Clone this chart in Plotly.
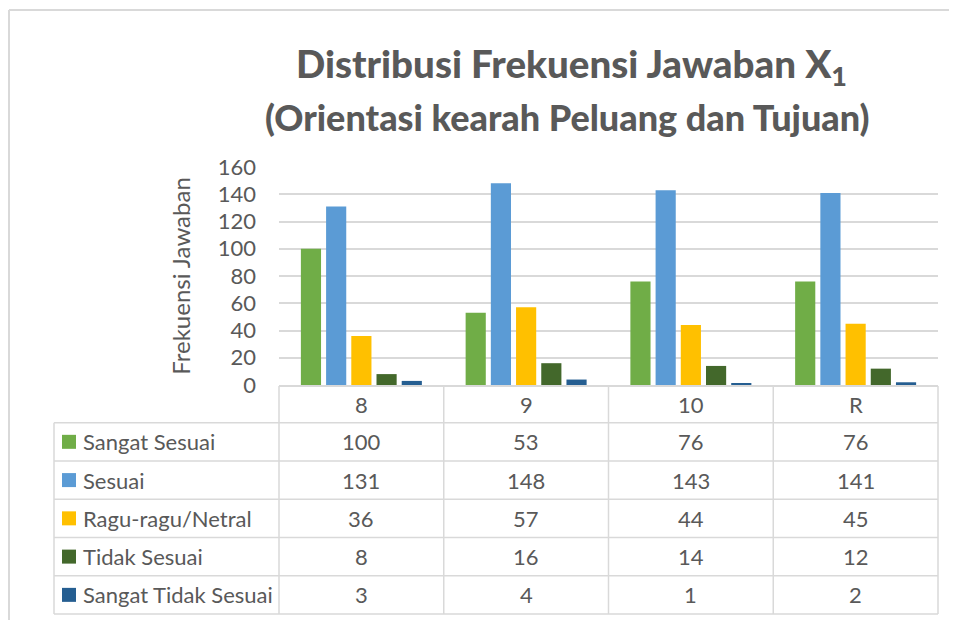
import plotly.graph_objects as go

# ---------------- data ----------------
categories = ["8", "9", "10", "R"]
series_names = ["Sangat Sesuai", "Sesuai", "Ragu-ragu/Netral", "Tidak Sesuai", "Sangat Tidak Sesuai"]
sangat_sesuai = [100, 53, 76, 76]
sesuai = [131, 148, 143, 141]
ragu_netral = [36, 57, 44, 45]
tidak_sesuai = [8, 16, 14, 12]
sangat_tidak_sesuai = [3, 4, 1, 2]
y_ticks = [0, 20, 40, 60, 80, 100, 120, 140, 160]

series_values = [sangat_sesuai, sesuai, ragu_netral, tidak_sesuai, sangat_tidak_sesuai]
colors = ["#70AD47", "#5B9BD5", "#FFC000", "#43682B", "#255E91"]

# ---------------- geometry (page pixels; the page body adds an 8px offset) ----------------
OFF = 8
W, H = 957 - OFF, 620 - OFF
PL, PR, PT, PB = 279, 938, 167, 385
TXT = "#595959"
GRID = "#d9d9d9"
FONT = "Lato"
TFONT = "Lato"


def px(x):
    return (x - PL) / (PR - PL)


def py(y):
    return (PB - y) / (PB - PT)


n = len(categories)


def cat_edge(i):
    # boundary between categories, mirrors xaxis range [-0.5, n-0.5]
    return i / n


fig = go.Figure()
for name, vals, col in zip(series_names, series_values, colors):
    fig.add_trace(go.Bar(x=categories, y=vals, name=name, marker_color=col,
                         marker_line_width=0, showlegend=False))

shapes = []
annotations = []

# chart outer border (top and left)
shapes.append(dict(type="line", xref="paper", yref="paper", x0=px(9), x1=px(W + OFF + 5),
                   y0=py(10), y1=py(10), line=dict(color=GRID, width=2)))
shapes.append(dict(type="line", xref="paper", yref="paper", x0=px(9), x1=px(9),
                   y0=py(10), y1=py(H + OFF + 5), line=dict(color=GRID, width=2)))

# data table
header_top, header_bot = 386, 422.7
row_h = 38.26
table_left = 54
rows_bottom = header_bot + row_h * len(series_names)
lw = 1.5
FS = 22

for i in range(n + 1):
    shapes.append(dict(type="line", xref="paper", yref="paper", x0=cat_edge(i), x1=cat_edge(i),
                       y0=py(header_top), y1=py(rows_bottom), line=dict(color=GRID, width=lw)))
shapes.append(dict(type="line", xref="paper", yref="paper", x0=px(table_left), x1=px(table_left),
                   y0=py(header_bot), y1=py(rows_bottom), line=dict(color=GRID, width=lw)))
for k in range(len(series_names) + 1):
    yy = header_bot + k * row_h
    shapes.append(dict(type="line", xref="paper", yref="paper", x0=px(table_left), x1=1,
                       y0=py(yy), y1=py(yy), line=dict(color=GRID, width=lw)))

# header labels (category index on the category axis)
for i, c in enumerate(categories):
    annotations.append(dict(x=i, xref="x", y=py((header_top + header_bot) / 2), yref="paper",
                            text=c, showarrow=False, xanchor="center", yanchor="middle",
                            font=dict(family=FONT, size=FS, color=TXT)))

# rows
for k, (name, vals, col) in enumerate(zip(series_names, series_values, colors)):
    yc = header_bot + (k + 0.5) * row_h
    shapes.append(dict(type="rect", xref="paper", yref="paper", x0=px(62), x1=px(76),
                       y0=py(yc - 7), y1=py(yc + 7), fillcolor=col, line=dict(width=0)))
    annotations.append(dict(x=px(81), xref="paper", y=py(yc), yref="paper", text=name,
                            showarrow=False, xanchor="left", yanchor="middle",
                            font=dict(family=FONT, size=FS, color=TXT)))
    for i, v in enumerate(vals):
        annotations.append(dict(x=i, xref="x", y=py(yc), yref="paper", text=str(v),
                                showarrow=False, xanchor="center", yanchor="middle",
                                font=dict(family=FONT, size=FS, color=TXT)))

# title
annotations.append(dict(x=px(571), xref="paper", y=py(66), yref="paper",
                        text="Distribusi Frekuensi Jawaban X<sub>1</sub>",
                        showarrow=False, xanchor="center", yanchor="middle",
                        font=dict(family=TFONT, size=38.5, color=TXT, weight=900)))
annotations.append(dict(x=px(567), xref="paper", y=py(117), yref="paper",
                        text="(Orientasi kearah Peluang dan Tujuan)",
                        showarrow=False, xanchor="center", yanchor="middle",
                        font=dict(family=TFONT, size=36, color=TXT, weight=900)))

fig.update_layout(
    width=W, height=H,
    margin=dict(l=PL - OFF, r=W + OFF - PR, t=PT - OFF, b=H + OFF - PB, pad=0),
    paper_bgcolor="white", plot_bgcolor="white",
    barmode="group", bargap=0.235, bargroupgap=0.2,
    shapes=shapes, annotations=annotations,
    font=dict(family=FONT, color=TXT),
    xaxis=dict(type="category", range=[-0.5, n - 0.5], showticklabels=False, showgrid=False,
               showline=True, linecolor=GRID, linewidth=lw, ticks="", zeroline=False, fixedrange=True),
    yaxis=dict(range=[0, 160], tickvals=y_ticks, showgrid=True, gridcolor=GRID, gridwidth=1.5,
               zeroline=False, showline=False, ticks="", ticklabelstandoff=22,
               tickfont=dict(family=FONT, size=FS, color=TXT),
               title=dict(text="Frekuensi Jawaban", standoff=20,
                          font=dict(family=FONT, size=24, color=TXT))),
)

fig.write_html("out.html")
